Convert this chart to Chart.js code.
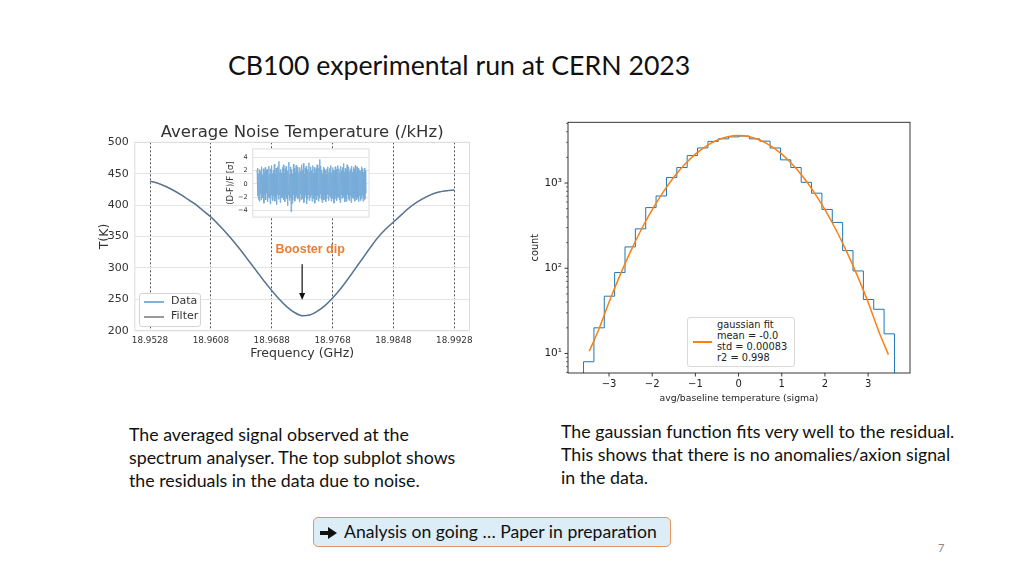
<!DOCTYPE html>
<html><head><meta charset="utf-8">
<script src="https://cdn.jsdelivr.net/npm/chart.js@4.4.0/dist/chart.umd.min.js"></script>
<style>
body{margin:0;width:1024px;height:576px;background:#fff;position:relative;overflow:hidden;font-family:Lato,'Open Sans',sans-serif;color:#111;}
.abs{position:absolute;}
#slideTitle{left:228px;top:49px;font-size:26.7px;white-space:nowrap;}
.cap{font-size:17.8px;line-height:23px;white-space:nowrap;}
#capL{left:129px;top:423px;}
#capR{left:561px;top:420px;}
#box{left:313px;top:517px;width:356px;height:28px;border:1.5px solid #e8935a;border-radius:5px;background:#dcedf8;font-size:17.6px;line-height:28px;white-space:nowrap;}
#box .arr{display:inline-block;position:relative;width:17px;height:12px;margin-left:6px;margin-right:7px;vertical-align:-1px;}
#box .arr i{position:absolute;left:0;top:4px;width:9px;height:4px;background:#111;}
#box .arr b{position:absolute;left:8px;top:0;width:0;height:0;border-top:6px solid transparent;border-bottom:6px solid transparent;border-left:9px solid #111;}
#pg{left:938px;top:541px;font-size:11px;color:#888;}
.leg{background:#fff;border:1px solid #d4d4d4;border-radius:3px;font-family:'DejaVu Sans';}
.legline{position:absolute;height:1.6px;}
.legtxt{position:absolute;white-space:nowrap;}
</style></head>
<body>
<div id="slideTitle" class="abs">CB100 experimental run at CERN 2023</div>

<canvas id="cL" class="abs" width="385" height="255" style="left:95px;top:115px;"></canvas>
<canvas id="cI" class="abs" width="152" height="86" style="left:222px;top:140px;"></canvas>
<div class="abs leg" style="left:139px;top:293px;width:60px;height:32px;">
  <div class="legline" style="left:4px;top:7px;width:20px;background:#7fb1dc;"></div>
  <div class="legtxt" style="left:31px;top:0px;font-size:11px;color:#333;">Data</div>
  <div class="legline" style="left:4px;top:22px;width:20px;background:#9a9a9a;"></div>
  <div class="legtxt" style="left:31px;top:15px;font-size:11px;color:#333;">Filter</div>
</div>

<canvas id="cR" class="abs" width="400" height="300" style="left:520px;top:110px;"></canvas>
<div class="abs leg" style="left:687px;top:317px;width:106px;height:48px;border-color:#d8d8d8;">
  <div class="legline" style="left:5px;top:23px;width:19px;background:#ff7f0e;"></div>
  <div class="legtxt" style="left:29px;top:1px;font-size:9.8px;line-height:11px;color:#222;">gaussian fit<br>mean = -0.0<br>std = 0.00083<br>r2 = 0.998</div>
</div>

<div id="capL" class="abs cap">The averaged signal observed at the<br>spectrum analyser. The top subplot shows<br>the residuals in the data due to noise.</div>
<div id="capR" class="abs cap">The gaussian function fits very well to the residual.<br>This shows that there is no anomalies/axion signal<br>in the data.</div>
<div id="box" class="abs"><span class="arr" aria-label="➔"><i></i><b></b></span>Analysis on going … Paper in preparation</div>
<div id="pg" class="abs">7</div>

<script>
// ---------- Left chart data ----------
const freqGHz = [18.9528,18.9538,18.9548,18.9558,18.9568,18.9578,18.9588,18.9598,18.9608,18.9618,18.9628,18.9638,18.9648,18.9658,18.9668,18.9678,18.9688,18.9698,18.9708,18.9718,18.9728,18.9738,18.9748,18.9758,18.9768,18.9778,18.9788,18.9798,18.9808,18.9818,18.9828,18.9838,18.9848,18.9858,18.9868,18.9878,18.9888,18.9898,18.9908,18.9918,18.9928];
const dataTempK = [438,435,430,424,417,409,401,391,381,369,356,342,327,311,295,279,264,250,238,229,224,225,231,240,252,266,282,299,316,333,349,362,373,384,395,404,411,417,421,423,424];
const filterTempK = [438,435,430,424,417,409,401,391,381,369,356,342,327,311,295,279,264,250,238,229,224,225,231,240,252,266,282,299,316,333,349,362,373,384,395,404,411,417,421,423,424];
const freqTicks = [18.9528,18.9608,18.9688,18.9768,18.9848,18.9928];
const tempTicks = [200,250,300,350,400,450,500];

// ---------- Inset residuals ----------
const residualSigma = [
2.1,-1.8,2.4,-2.3,1.6,-2.6,2.2,-1.5,1.9,-2.4,2.6,-1.9,1.4,-2.1,2.3,-2.9,1.8,-1.6,2.5,-2.4,2.0,-1.4,2.2,-2.7,1.7,-2.0,2.7,-2.1,1.5,-3.0,
2.3,-1.7,2.8,-2.2,1.6,-2.5,2.1,-1.8,3.0,-2.6,1.5,-2.0,2.4,-3.1,1.9,-1.6,2.6,-2.3,3.4,-1.7,1.8,-2.8,2.2,-2.0,1.7,-2.1,2.5,-1.9,2.9,-2.4,
1.6,-2.7,2.3,-1.8,2.7,-2.2,1.7,-3.3,2.0,-1.7,3.3,-2.5,1.5,-2.0,2.6,-4.2,2.2,-2.9,1.6,-2.4,3.0,-1.6,2.4,-2.6,1.8,-2.1,2.8,-1.8,1.9,-2.3,
2.6,-2.0,1.7,-2.7,2.5,-1.5,1.9,-2.4,2.9,-2.2,2.1,-1.7,3.1,-2.8,1.5,-2.0,2.4,-1.6,2.7,-3.0,1.8,-2.3,2.2,-1.6,3.2,-2.5,1.8,-2.0,2.6,-1.7,
2.0,-2.6,2.8,-1.7,1.6,-2.2,2.5,-2.9,1.7,-1.8,2.3,-2.4,2.9,-1.8,1.8,-2.6,2.4,-2.1,3.7,-1.5,2.7,-2.3,2.1,-2.8,1.6,-1.9,2.5,-2.4,2.2,-1.6,
2.0,-2.7,1.5,-2.2,2.3,-1.6,2.6,-2.5,1.8,-1.7,2.4,-2.0,2.8,-2.6,1.7,-2.2,2.5,-1.8,2.1,-2.9,1.9,-2.3,2.6,-1.7,2.2,-2.5,1.6,-2.1,2.8,-1.9,
2.3,-2.4,1.7,-2.8,2.7,-1.6,2.0,-2.2,2.5,-2.0,3.1,-1.8,1.8,-2.7,2.4,-2.1,2.0,-2.6,2.9,-1.6,1.6,-2.3,2.6,-2.5,1.9,-1.8,2.3,-2.8,2.7,-2.0,
1.8,-2.2,2.5,-1.7,2.2,-2.6,2.8,-1.9,1.7,-2.4,2.6,-2.1,2.0,-2.7,2.4,-1.8,2.1,-2.5,1.9,-2.2,2.6,-1.7,2.3,-2.6,1.8,-2.0,2.4,-2.3,2.0,-1.4];
const residualTicks = [-4,-2,0,2,4];

// ---------- Right chart data ----------
const binEdges = [-3.59,-3.35,-3.11,-2.87,-2.63,-2.39,-2.15,-1.91,-1.67,-1.43,-1.19,-0.95,-0.71,-0.47,-0.23,0.01,0.25,0.49,0.73,0.97,1.21,1.45,1.69,1.93,2.17,2.41,2.65,2.89,3.13,3.37,3.61];
const binCounts = [8,20,47,89,178,290,515,705,1160,1520,2100,2580,3080,3300,3480,3560,3300,3100,2580,1870,1520,1020,760,490,345,161,93,43,33,17];
const fitX = [-3.46,-3.25,-3.0,-2.75,-2.5,-2.25,-2.0,-1.75,-1.5,-1.25,-1.0,-0.75,-0.5,-0.25,0,0.25,0.5,0.75,1.0,1.25,1.5,1.75,2.0,2.25,2.5,2.75,3.0,3.25,3.47];
const fitY = [10.6,18.5,40,82,158,287,487,778,1169,1648,2184,2717,3177,3489,3600,3489,3177,2717,2184,1648,1169,778,487,287,158,82,40,18,9.7];
const sigmaTicks = [-3,-2,-1,0,1,2,3];
const sigmaTickLabels = ['−3','−2','−1','0','1','2','3'];
const countMajorTicks = [10,100,1000];
const countTickLabels = ['10¹','10²','10³'];

const DJ = 'DejaVu Sans';

// ---------- Left main chart ----------
const framePluginL = {
  id:'frameL',
  afterDatasetsDraw(chart){
    const {ctx, chartArea:a, scales} = chart;
    ctx.save();
    ctx.strokeStyle = '#dcdcdc'; ctx.lineWidth = 1;
    ctx.strokeRect(a.left, a.top, a.right-a.left, a.bottom-a.top);
    const xs = scales.x, ys = scales.y;
    const ax = xs.getPixelForValue(18.9728);
    const y1 = ys.getPixelForValue(306), y2 = ys.getPixelForValue(249);
    ctx.strokeStyle = '#111'; ctx.fillStyle = '#111'; ctx.lineWidth = 1.2;
    ctx.beginPath(); ctx.moveTo(ax, y1); ctx.lineTo(ax, y2-5); ctx.stroke();
    ctx.beginPath(); ctx.moveTo(ax, y2); ctx.lineTo(ax-3, y2-7); ctx.lineTo(ax+3, y2-7); ctx.closePath(); ctx.fill();
    ctx.font = 'bold 12.5px "Liberation Sans", Arial, sans-serif';
    ctx.fillStyle = '#ed7d31'; ctx.textAlign = 'center'; ctx.textBaseline = 'middle';
    ctx.fillText('Booster dip', xs.getPixelForValue(18.97385), ys.getPixelForValue(330));
    ctx.restore();
  }
};

new Chart(document.getElementById('cL'), {
  type:'line',
  data:{datasets:[
    {label:'Filter', data:freqGHz.map((f,i)=>({x:f,y:filterTempK[i]})), borderColor:'rgba(100,100,105,0.7)', borderWidth:1.1, pointRadius:0, cubicInterpolationMode:'monotone'},
    {label:'Data', data:freqGHz.map((f,i)=>({x:f,y:dataTempK[i]})), borderColor:'#5a8fc2', borderWidth:1.5, pointRadius:0, cubicInterpolationMode:'monotone'}
  ]},
  options:{
    responsive:false, animation:false, events:[],
    layout:{padding:{left:0,right:10.5,top:0,bottom:9}},
    plugins:{legend:{display:false}, tooltip:{enabled:false},
      title:{display:true, fullSize:false, text:'Average Noise Temperature (/kHz)', color:'#333', font:{family:DJ,size:16.5,weight:'normal'}, padding:{top:7.5,bottom:0}}},
    scales:{
      x:{type:'linear', min:18.9508, max:18.9948,
        afterBuildTicks:s=>{s.ticks=freqTicks.map(v=>({value:v}));},
        afterFit:s=>{s.height=30.3;},
        ticks:{callback:v=>Number(v).toFixed(4), autoSkip:false, maxRotation:0, color:'#333', font:{family:DJ,size:8.8}, padding:5},
        grid:{color:'#555', lineWidth:1, drawTicks:false},
        border:{display:false, dash:[2,2]},
        title:{display:true, text:'Frequency (GHz)', color:'#333', font:{family:DJ,size:12.5}, padding:{top:0,bottom:0}}},
      y:{min:200, max:500,
        afterBuildTicks:s=>{s.ticks=tempTicks.map(v=>({value:v}));},
        afterFit:s=>{s.width=39.8;},
        ticks:{color:'#333', font:{family:DJ,size:11}, padding:6},
        grid:{color:'#e4e4e4', lineWidth:1, drawTicks:false},
        border:{display:false},
        title:{display:true, text:'T(K)', color:'#333', font:{family:DJ,size:12.5}, padding:{top:2,bottom:0}}}
    }
  },
  plugins:[framePluginL]
});

// ---------- Inset ----------
const insetPlugin = {
  id:'inset',
  beforeDraw(chart){
    const {ctx, chartArea:a} = chart;
    ctx.save(); ctx.fillStyle='#fff'; ctx.fillRect(a.left,a.top,a.right-a.left,a.bottom-a.top); ctx.restore();
  },
  afterDraw(chart){
    const {ctx, chartArea:a} = chart;
    ctx.save(); ctx.strokeStyle='#dcdcdc'; ctx.lineWidth=1;
    ctx.strokeRect(a.left,a.top,a.right-a.left,a.bottom-a.top); ctx.restore();
  }
};
const nRes = residualSigma.length;
new Chart(document.getElementById('cI'), {
  type:'line',
  data:{datasets:[{data:residualSigma.map((v,i)=>({x:i,y:v})), borderColor:'#78acd8', borderWidth:1, pointRadius:0, tension:0}]},
  options:{
    responsive:false, animation:false, events:[],
    layout:{padding:{left:4,right:5,top:6,bottom:6}},
    plugins:{legend:{display:false}, tooltip:{enabled:false}},
    scales:{
      x:{type:'linear', display:false, min:-(nRes-1)*0.04, max:(nRes-1)*1.03},
      y:{min:-5.0, max:5.3,
        afterBuildTicks:s=>{s.ticks=residualTicks.map(v=>({value:v}));},
        afterFit:s=>{s.width=26.7;},
        ticks:{color:'#333', font:{family:DJ,size:6.5}, padding:5, callback:v=>(v<0?'−'+(-v):String(v))},
        grid:{color:'#e4e4e4', drawTicks:false},
        border:{display:false},
        title:{display:true, text:'(D-F)/F [σ]', color:'#333', font:{family:DJ,size:8.5}, padding:{top:0,bottom:0}}}
    }
  },
  plugins:[insetPlugin]
});

// ---------- Right histogram ----------
const histPts = [{x:binEdges[0], y:1}];
binCounts.forEach((c,i)=>histPts.push({x:binEdges[i], y:c}));
histPts.push({x:binEdges[binEdges.length-1], y:1});

const logTickVals = [];
[1,10,100,1000].forEach(d=>{for(let m=1;m<10;m++){const v=m*d; if(v>=5.9 && v<=5160) logTickVals.push(v);}});

const framePluginR = {
  id:'frameR',
  afterDraw(chart){
    const {ctx, chartArea:a, scales} = chart;
    ctx.save();
    ctx.strokeStyle='#222'; ctx.lineWidth=0.9;
    ctx.strokeRect(a.left,a.top,a.right-a.left,a.bottom-a.top);
    ctx.beginPath();
    sigmaTicks.forEach(v=>{const x=scales.x.getPixelForValue(v); ctx.moveTo(x,a.bottom); ctx.lineTo(x,a.bottom+3.5);});
    ctx.stroke();
    logTickVals.forEach(v=>{
      const y=scales.y.getPixelForValue(v);
      const major = countMajorTicks.includes(v);
      ctx.lineWidth = major?0.9:0.6;
      ctx.beginPath(); ctx.moveTo(a.left,y); ctx.lineTo(a.left-(major?3.5:2),y); ctx.stroke();
    });
    ctx.restore();
  }
};

new Chart(document.getElementById('cR'), {
  type:'line',
  data:{datasets:[
    {label:'gaussian fit', data:fitX.map((x,i)=>({x:x,y:fitY[i]})), borderColor:'#ff7f0e', borderWidth:1.5, pointRadius:0, cubicInterpolationMode:'monotone'},
    {label:'hist', data:histPts, borderColor:'#1f77b4', borderWidth:1, pointRadius:0, stepped:'before'}
  ]},
  options:{
    responsive:false, animation:false, events:[],
    layout:{padding:{left:10,right:10,top:7,bottom:6}},
    plugins:{legend:{display:false}, tooltip:{enabled:false}},
    scales:{
      x:{type:'linear', min:-3.95, max:3.97,
        afterBuildTicks:s=>{s.ticks=sigmaTicks.map(v=>({value:v}));},
        afterFit:s=>{s.height=31;},
        ticks:{callback:(v)=>{const i=sigmaTicks.indexOf(v); return i>=0?sigmaTickLabels[i]:'';}, autoSkip:false, maxRotation:0, color:'#222', font:{family:DJ,size:10}, padding:5},
        grid:{display:false, drawTicks:false}, border:{display:false},
        title:{display:true, text:'avg/baseline temperature (sigma)', color:'#222', font:{family:DJ,size:9.3}, padding:{top:0,bottom:0}}},
      y:{type:'logarithmic', min:5.9, max:5160,
        afterBuildTicks:s=>{s.ticks=logTickVals.map(v=>({value:v}));},
        afterFit:s=>{s.width=38;},
        ticks:{callback:(v)=>{const i=countMajorTicks.indexOf(v); return i>=0?countTickLabels[i]:'';}, autoSkip:false, color:'#222', font:{family:DJ,size:10.5}, padding:6},
        grid:{display:false, drawTicks:false}, border:{display:false},
        title:{display:true, text:'count', color:'#222', font:{family:DJ,size:9.8}, padding:{top:0,bottom:0}}}
    }
  },
  plugins:[framePluginR]
});
</script>
</body></html>
